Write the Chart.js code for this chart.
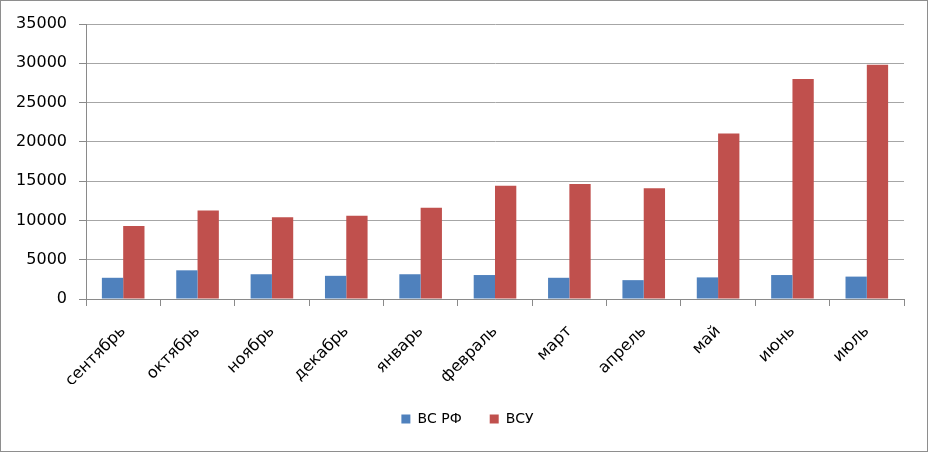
<!DOCTYPE html>
<html>
<head>
<meta charset="utf-8">
<script src="https://cdn.jsdelivr.net/npm/chart.js@4"></script>
<style>
  html, body { margin: 0; padding: 0; background: #fff; }
  #wrap { width: 928px; height: 452px; box-sizing: border-box; border: 1px solid #8e8e8e; }
  canvas { display: block; }
</style>
</head>
<body>
<div id="wrap"><canvas id="chart" width="926" height="450"></canvas></div>
<script>
// месяцы и значения
const months = ['сентябрь', 'октябрь', 'ноябрь', 'декабрь', 'январь', 'февраль',
                'март', 'апрель', 'май', 'июнь', 'июль'];
const vsRF  = [2700, 3650, 3150, 2950, 3150, 3050, 2700, 2400, 2750, 3050, 2850];
const vsU   = [9300, 11250, 10400, 10600, 11600, 14400, 14650, 14100, 21050, 28000, 29800];
const yTicks = [0, 5000, 10000, 15000, 20000, 25000, 30000, 35000];

const FONT = 'DejaVu Sans';
const GRID = '#a6a6a6';
const AXIS = '#8a8a8a';

// легенда в оригинале чуть правее центра
const shiftLegend = {
  id: 'shiftLegend',
  afterLayout(chart) {
    const lg = chart.legend;
    if (!lg) return;
    lg.left += 15; lg.right += 15;
    if (lg.adjustHitBoxes) lg.adjustHitBoxes();
  },
};

new Chart(document.getElementById('chart'), {
  type: 'bar',
  data: {
    labels: months,
    datasets: [
      { label: 'ВС РФ', data: vsRF, backgroundColor: '#4f81bd' },
      { label: 'ВСУ',   data: vsU,  backgroundColor: '#c0504d' },
    ],
  },
  plugins: [shiftLegend],
  options: {
    responsive: false,
    animation: false,
    layout: { padding: { top: 23, right: 23, left: 0, bottom: 15 } },
    datasets: { bar: { barPercentage: 1, categoryPercentage: 0.573 } },
    plugins: {
      tooltip: { enabled: false },
      legend: {
        position: 'bottom',
        labels: {
          color: '#000', boxWidth: 9, boxHeight: 9, padding: 28,
          font: { family: FONT, size: 14 },
        },
      },
    },
    scales: {
      x: {
        afterFit: s => { s.height = 85; },
        grid: { offset: true, drawOnChartArea: false, color: AXIS, tickLength: 7 },
        border: { color: AXIS },
        ticks: {
          color: '#000', minRotation: 45, maxRotation: 45, padding: 16,
          font: { family: FONT, size: 16 },
        },
      },
      y: {
        min: 0, max: 35000,
        afterFit: s => { s.width = 85; },
        afterBuildTicks: s => { s.ticks = yTicks.map(v => ({ value: v })); },
        grid: { color: GRID, tickLength: 7, tickColor: AXIS },
        border: { color: AXIS },
        ticks: {
          color: '#000', padding: 12,
          font: { family: FONT, size: 16 },
          callback: v => String(v),
        },
      },
    },
  },
});
</script>
</body>
</html>
